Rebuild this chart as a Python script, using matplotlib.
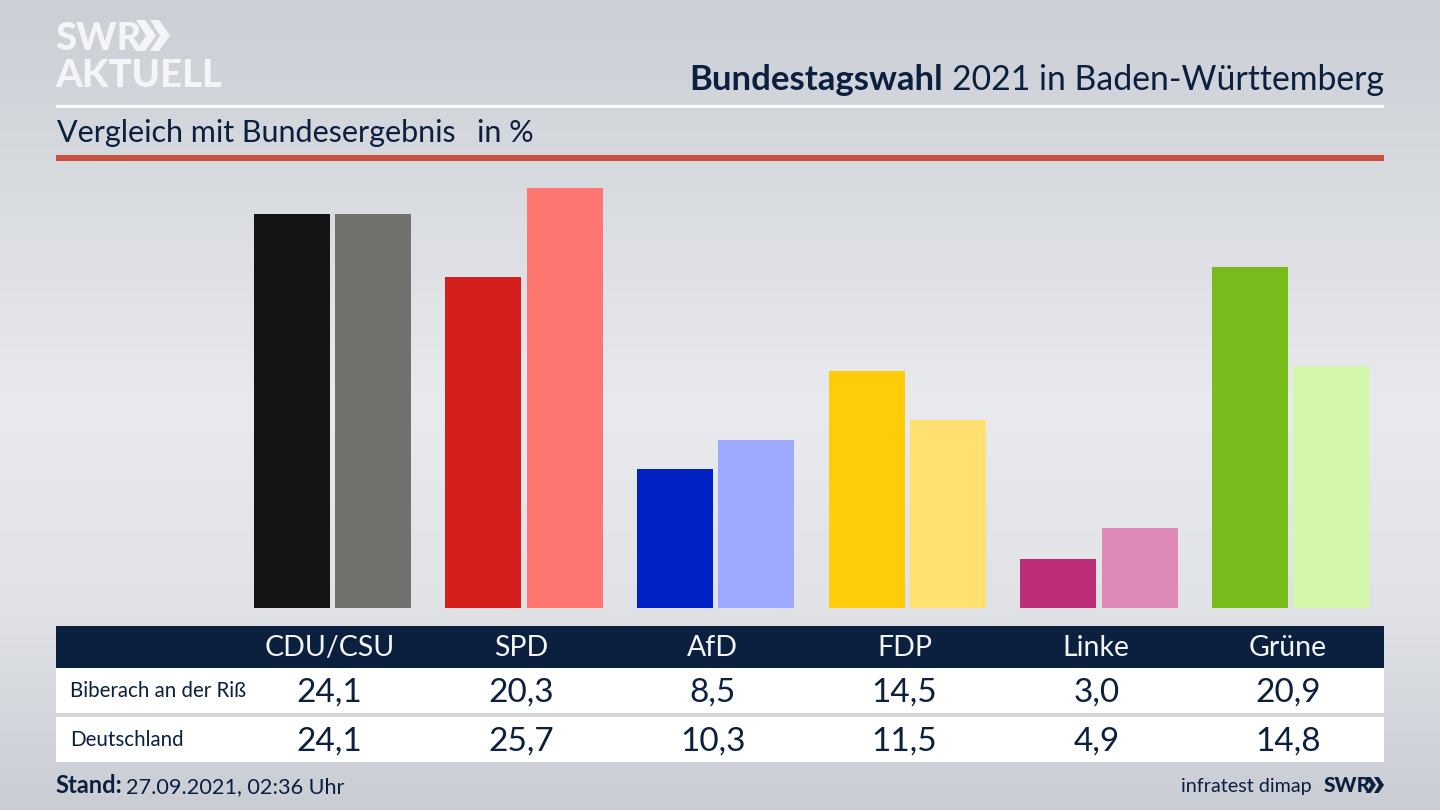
import numpy as np
import matplotlib
matplotlib.use("Agg")
import matplotlib.pyplot as plt
from matplotlib.patches import Rectangle, Polygon
from matplotlib.colors import LinearSegmentedColormap

parties = ["CDU/CSU", "SPD", "AfD", "FDP", "Linke", "Grüne"]
biberach = [24.1, 20.3, 8.5, 14.5, 3.0, 20.9]
deutschland = [24.1, 25.7, 10.3, 11.5, 4.9, 14.8]
colors_a = ["#141414", "#d51f1c", "#0021c4", "#ffcc0a", "#bc2e78", "#77bc1a"]
colors_b = ["#72716e", "#ff7570", "#9daaff", "#ffe070", "#df89b8", "#d4f7ab"]
rows = ["Biberach an der Riß", "Deutschland"]

W, H = 1440, 810
FONT = "Lato"
NAVY = "#0b1f3f"
plt.rcParams["font.family"] = [FONT, "DejaVu Sans"]
fig = plt.figure(figsize=(W / 100, H / 100), dpi=100)

bg = fig.add_axes([0, 0, 1, 1], zorder=0)
bg.set_xlim(0, W); bg.set_ylim(H, 0); bg.axis("off")
cmap = LinearSegmentedColormap.from_list("bg", [(0, "#cbcfd6"), (0.2, "#d6d9de"), (0.5, "#e9eaed"),
                                               (0.75, "#e0e2e6"), (1, "#c9cdd4")])
bg.imshow(np.linspace(0, 1, 256).reshape(-1, 1), cmap=cmap, aspect="auto", extent=(0, W, H, 0), zorder=0)

def rect(x0, y0, x1, y1, c, z=1):
    bg.add_patch(Rectangle((x0, y0), x1 - x0, y1 - y0, fc=c, ec="none", zorder=z))

rect(56, 104.5, 1384, 107.5, "#ffffff")
rect(56, 155, 1384, 160.5, "#c8513f")
rect(56, 626, 1384, 668, NAVY)
rect(56, 668, 1384, 713, "#ffffff")
rect(56, 717, 1384, 762, "#ffffff")

# logo
bg.text(55, 50, "SWR", color="#f4f5f6", fontsize=27.5, fontweight="black", va="baseline", ha="left")
bg.text(55, 87, "AKTUELL", color="#f4f5f6", fontsize=27.5, fontweight="black", va="baseline", ha="left")
for dx in (0, 14):
    x = 136 + dx
    bg.add_patch(Polygon([(x, 20), (x + 9, 20), (x + 20, 35.5), (x + 9, 51), (x, 51), (x + 10, 35.5)],
                         fc="#f4f5f6", ec="none", zorder=2))

# headings
t = bg.text(1384, 90, "2021 in Baden-Württemberg", color=NAVY, fontsize=24.3, ha="right", va="baseline")
bb = t.get_window_extent(fig.canvas.get_renderer())
bg.text(bb.x0 - 9, 90, "Bundestagswahl", color=NAVY, fontsize=25, fontweight="bold", ha="right", va="baseline")
bg.text(57, 142, "Vergleich mit Bundesergebnis", color=NAVY, fontsize=22, ha="left", va="baseline")
bg.text(477, 142, "in %", color=NAVY, fontsize=22, ha="left", va="baseline")

# bars
ax = fig.add_axes([0, (H - 608) / H, 1, (608 - 180) / H], zorder=1)
ax.patch.set_alpha(0)
ax.axis("off")
SCALE = 16.33
ax.set_ylim(0, (608 - 180) / SCALE)
STEP = 191.6
X0 = 332.5
ax.set_xlim(-X0 / STEP, (W - X0) / STEP)
xs = np.arange(len(parties))
bw = 76 / STEP
off = 40.75 / STEP
ax.bar(xs - off, biberach, width=bw, color=colors_a, linewidth=0)
ax.bar(xs + off, deutschland, width=bw, color=colors_b, linewidth=0)

# table
for i, p in enumerate(parties):
    cx = 329.5 + i * 191.7
    bg.text(cx, 656, p, color="#f2f4f7", fontsize=20.5, ha="center", va="baseline", zorder=3)
    bg.text(cx, 702, f"{biberach[i]:.1f}".replace(".", ","), color=NAVY, fontsize=24, ha="center", va="baseline", zorder=3)
    bg.text(cx, 751, f"{deutschland[i]:.1f}".replace(".", ","), color=NAVY, fontsize=24, ha="center", va="baseline", zorder=3)
bg.text(70, 697, rows[0], color=NAVY, fontsize=14.8, ha="left", va="baseline", zorder=3)
bg.text(70, 746, rows[1], color=NAVY, fontsize=14.8, ha="left", va="baseline", zorder=3)

# footer
bg.text(55, 793, "Stand:", color=NAVY, fontsize=17, fontweight="bold", ha="left", va="baseline")
bg.text(126, 793, "27.09.2021, 02:36 Uhr", color=NAVY, fontsize=15.6, ha="left", va="baseline")
bg.text(1312, 792, "infratest dimap", color=NAVY, fontsize=14.2, ha="right", va="baseline")
bg.text(1324, 792, "SWR", color=NAVY, fontsize=15, fontweight="black", ha="left", va="baseline")
for dx in (0, 8):
    x = 1366 + dx
    bg.add_patch(Polygon([(x, 777), (x + 4.5, 777), (x + 10, 785), (x + 4.5, 793), (x, 793), (x + 5, 785)],
                         fc=NAVY, ec="none", zorder=2))

fig.savefig("out.png", dpi=100)
